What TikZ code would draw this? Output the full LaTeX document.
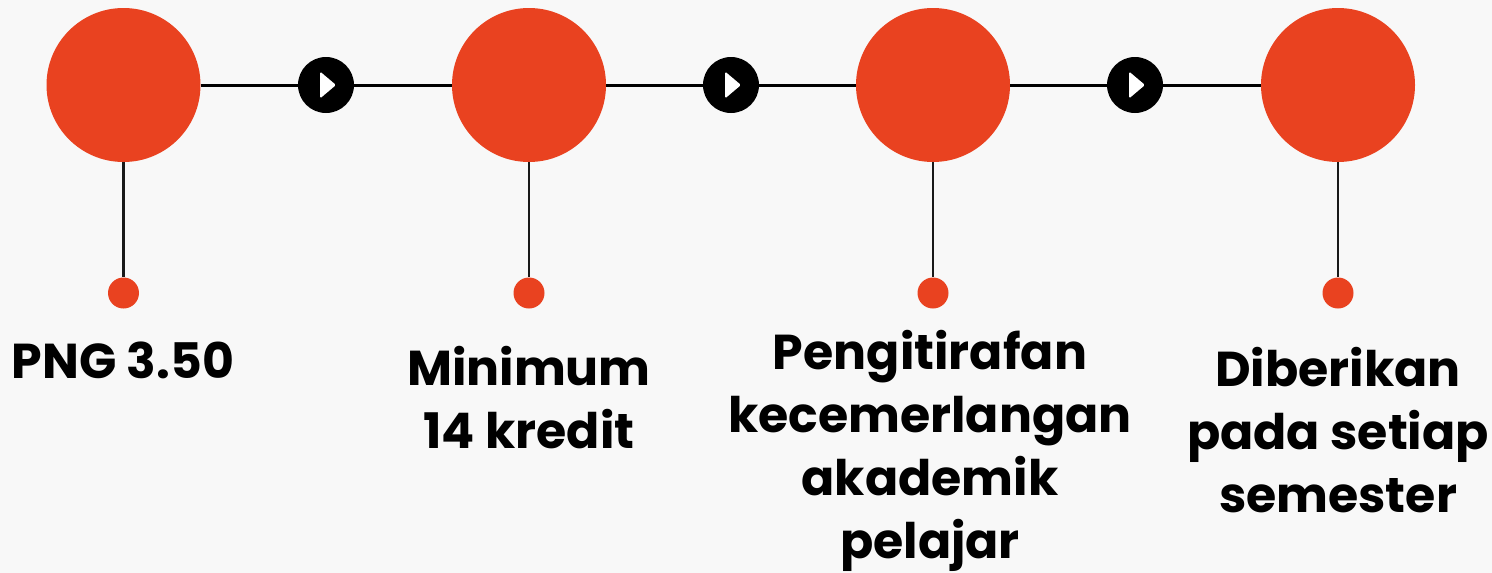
\documentclass[tikz,border=0pt]{standalone}
\usepackage{fontspec}
\setmainfont{Poppins}[BoldFont={* Bold}]
\definecolor{bg}{HTML}{F8F8F8}
\definecolor{redc}{HTML}{E94220}
\tikzset{
  bigc/.style={circle,fill=redc,minimum size=154pt,inner sep=0pt},
  smalld/.style={circle,fill=redc,minimum size=31pt,inner sep=0pt},
  arrowc/.style={circle,fill=black,minimum size=56pt,inner sep=0pt},
  hline/.style={line width=3pt,black},
  vline/.style={line width=2.4pt,black!90},
  lbl/.style={align=center,inner sep=0pt,anchor=base,font=\bfseries\fontsize{49}{63}\selectfont}
}
\begin{document}
\begin{tikzpicture}[x=1pt,y=-1pt]
\fill[bg] (0,0) rectangle (1492,573);
\useasboundingbox (0,0) rectangle (1492,573);
\foreach \i/\x in {1/123.5,2/529,3/933,4/1338}{
  \node[bigc] (c\i) at (\x,85) {};
  \node[smalld] (d\i) at (\x,293) {};
}
\foreach \i/\x in {1/326,2/731,3/1135}{
  \node[arrowc] (a\i) at (\x,85) {};
}
\draw[hline] (c1) -- (a1); \draw[hline] (a1) -- (c2);
\draw[hline] (c2) -- (a2); \draw[hline] (a2) -- (c3);
\draw[hline] (c3) -- (a3); \draw[hline] (a3) -- (c4);
\foreach \i in {1,...,4}{ \draw[vline] (c\i.south) -- (d\i.north); }
\foreach \i in {1,2,3}{
  \fill[white,rounded corners=1.5pt] ([xshift=-6pt,yshift=-13.5pt]a\i.center) -- ([xshift=10pt]a\i.center) -- ([xshift=-6pt,yshift=13.5pt]a\i.center) -- cycle;
}
\node[lbl] (t1) at (123,378) {PNG 3.50};
\node[lbl] (t2) at (529,448) {Minimum\\14 kredit};
\node[lbl] (t3) at (930,558) {Pengitirafan\\kecemerlangan\\akademik\\pelajar};
\node[lbl] (t4) at (1338,512) {Diberikan\\pada setiap\\semester};
\end{tikzpicture}
\end{document}
